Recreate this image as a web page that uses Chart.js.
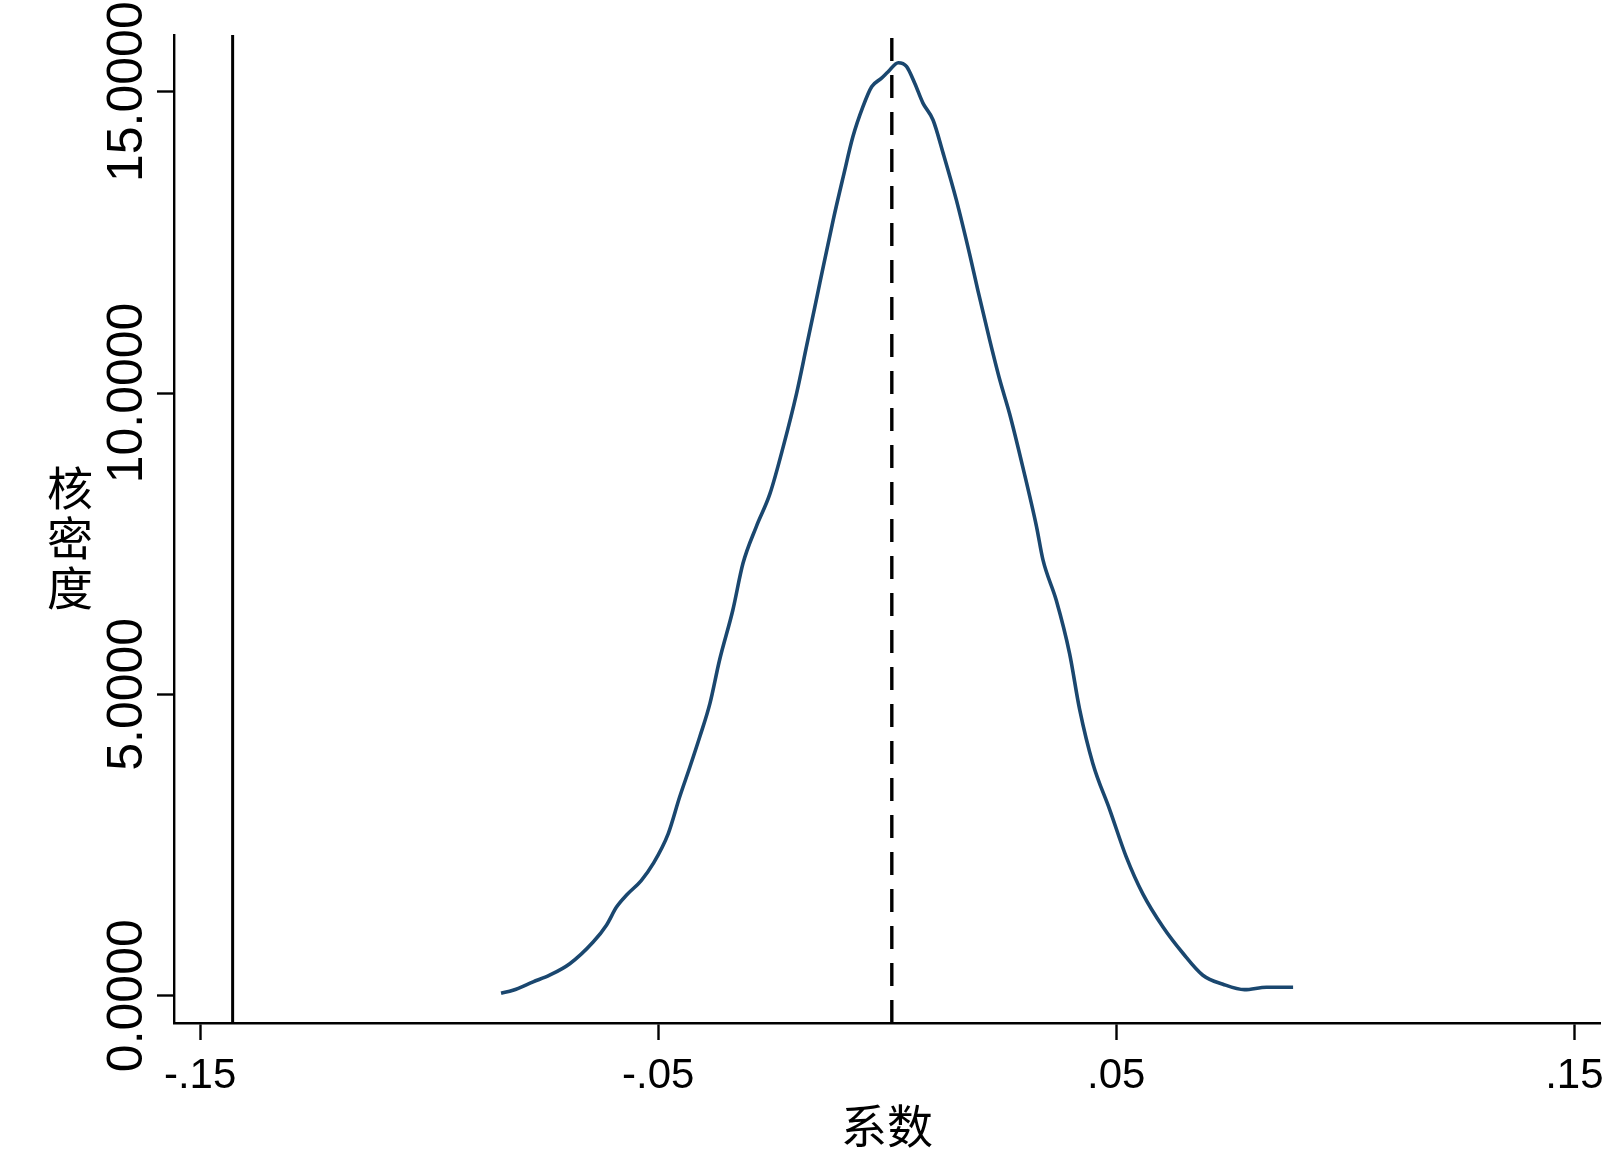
<!DOCTYPE html>
<html><head><meta charset="utf-8">
<script src="https://cdn.jsdelivr.net/npm/chart.js@4.4.1/dist/chart.umd.min.js"></script>
<style>html,body{margin:0;padding:0;background:#fff;overflow:hidden}canvas{display:block}</style>
</head><body>
<canvas id="c" width="1618" height="1163"></canvas>
<script>
// ---- data ----
const densityX = [-0.0843,-0.0817,-0.0773,-0.0737,-0.0693,-0.0642,-0.0613,-0.0591,-0.0569,-0.0537,-0.0511,-0.0478,-0.0453,-0.0431,-0.0409,-0.0387,-0.0366,-0.0337,-0.0315,-0.0286,-0.0256,-0.0227,-0.0198,-0.0176,-0.0158,-0.0147,-0.0118,-0.0096,-0.0075,-0.0053,-0.0034,-0.0013,0.0002,0.0024,0.0042,0.0060,0.0078,0.0100,0.0122,0.0151,0.0180,0.0198,0.0224,0.0246,0.0267,0.0296,0.0326,0.0340,0.0369,0.0398,0.0420,0.0449,0.0486,0.0522,0.0558,0.0602,0.0646,0.0689,0.0733,0.0780,0.0828,0.0886];
const densityY = [0.04,0.09,0.23,0.34,0.53,0.89,1.17,1.47,1.67,1.91,2.19,2.69,3.30,3.79,4.30,4.85,5.57,6.40,7.17,7.78,8.33,9.11,9.99,10.78,11.43,11.83,12.87,13.59,14.25,14.75,15.08,15.22,15.33,15.48,15.42,15.14,14.81,14.53,13.98,13.20,12.30,11.70,10.87,10.21,9.66,8.77,7.78,7.23,6.56,5.68,4.75,3.85,3.08,2.30,1.69,1.14,0.70,0.34,0.19,0.10,0.14,0.14];
const refLineX = -0.1429;   // solid vertical line
const meanLineX = 0.0010;   // dashed vertical line
const xTickValues = [-0.15, -0.05, 0.05, 0.15];
const xTickLabels = ['-.15', '-.05', '.05', '.15'];
const yTickValues = [0, 5, 10, 15];
const yTickLabels = ['0.0000', '5.0000', '10.0000', '15.0000'];
const xTitle = '系数';
const yTitle = '核密度';
const xRange = [-0.1557, 0.1556];
const yRange = [-0.453, 15.94];

const curvePoints = densityX.map((x, i) => ({ x: x, y: densityY[i] }));
const vline = (x) => [{ x: x, y: yRange[0] }, { x: x, y: yRange[1] }];

const labelPlugin = {
  id: 'statalabels',
  afterDraw(chart) {
    const ctx = chart.ctx, xs = chart.scales.x, ys = chart.scales.y, a = chart.chartArea;
    ctx.save();
    ctx.fillStyle = '#000';
    // x tick labels
    ctx.font = '42px "Liberation Sans", Arial, sans-serif';
    ctx.textAlign = 'center';
    ctx.textBaseline = 'alphabetic';
    xTickValues.forEach((v, i) => ctx.fillText(xTickLabels[i], xs.getPixelForValue(v), a.bottom + 65));
    // y tick labels (rotated)
    ctx.font = '50px "Liberation Sans", Arial, sans-serif';
    yTickValues.forEach((v, i) => {
      ctx.save();
      ctx.translate(a.left - 32, ys.getPixelForValue(v));
      ctx.rotate(-Math.PI / 2);
      ctx.fillText(yTickLabels[i], 0, 0);
      ctx.restore();
    });
    // titles
    ctx.font = '46px "Noto Sans CJK SC", sans-serif';
    ctx.textBaseline = 'middle';
    ctx.fillText(xTitle, (a.left + a.right) / 2, 1126);
    Array.from(yTitle).forEach((ch, i) => ctx.fillText(ch, 70, 488 + i * 50));
    ctx.restore();
  }
};

new Chart(document.getElementById('c'), {
  type: 'line',
  data: {
    datasets: [
      { data: curvePoints, borderColor: '#1a476f', borderWidth: 3.6, pointRadius: 0, fill: false, cubicInterpolationMode: 'monotone', order: 0 },
      { data: vline(meanLineX), borderColor: '#000', borderWidth: 3.4, borderDash: [23, 14], pointRadius: 0, fill: false, order: 1 },
      { data: vline(refLineX), borderColor: '#000', borderWidth: 3, pointRadius: 0, fill: false, order: 2 }
    ]
  },
  options: {
    responsive: false,
    animation: false,
    events: [],
    layout: { padding: { top: 35, right: 18, left: 0, bottom: 0 } },
    plugins: { legend: { display: false }, tooltip: { enabled: false } },
    scales: {
      x: {
        type: 'linear', min: xRange[0], max: xRange[1],
        afterBuildTicks: (s) => { s.ticks = xTickValues.map(v => ({ value: v })); },
        afterFit: (s) => { s.height = 140; },
        ticks: { display: false },
        grid: { display: true, drawOnChartArea: false, drawTicks: true, tickLength: 17, tickWidth: 2.4, tickColor: '#000', color: '#000' },
        border: { display: true, color: '#000', width: 2.4 }
      },
      y: {
        type: 'linear', min: yRange[0], max: yRange[1],
        afterBuildTicks: (s) => { s.ticks = yTickValues.map(v => ({ value: v })); },
        afterFit: (s) => { s.width = 174; },
        ticks: { display: false },
        grid: { display: true, drawOnChartArea: false, drawTicks: true, tickLength: 17, tickWidth: 2.4, tickColor: '#000', color: '#000' },
        border: { display: true, color: '#000', width: 2.4 }
      }
    }
  },
  plugins: [labelPlugin]
});
</script>
</body></html>
